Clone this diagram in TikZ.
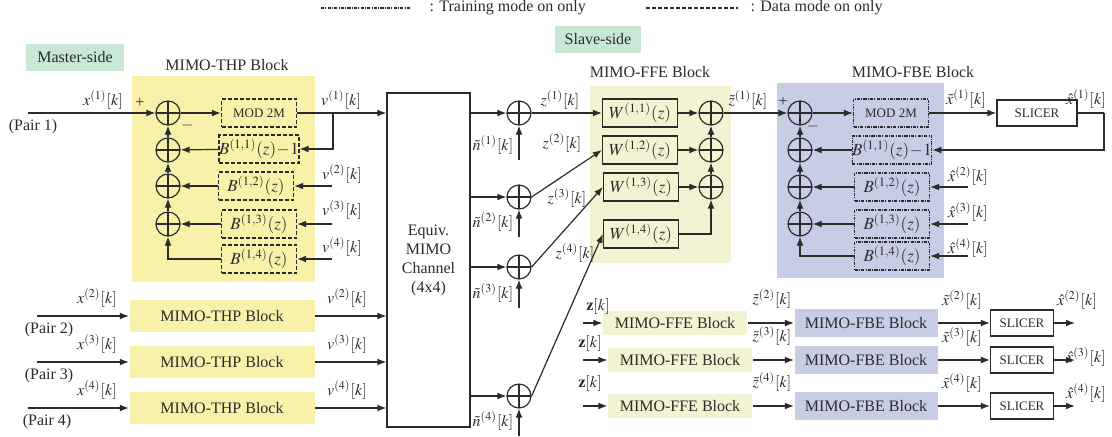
\documentclass[tikz,border=0pt]{standalone}
\usepackage{mathptmx}
\usepackage{fontspec}
\setmainfont{Liberation Serif}
\usetikzlibrary{arrows.meta, positioning, calc}
\definecolor{thpc}{HTML}{F7F1AA}
\definecolor{ffec}{HTML}{F3F2D3}
\definecolor{fbec}{HTML}{C8CDE6}
\definecolor{sidec}{HTML}{C9E7D5}
\definecolor{linec}{HTML}{2B2B2B}
\tikzset{
  adder/.style={circle, draw=linec, minimum size=12pt, inner sep=0pt,
    path picture={\draw[linec]
      (path picture bounding box.north) -- (path picture bounding box.south)
      (path picture bounding box.west) -- (path picture bounding box.east);}},
  datamode/.style={dash pattern=on 2pt off 1pt, line width=0.7pt},
  trainmode/.style={dash pattern=on 1.6pt off 0.6pt on 0.5pt off 0.6pt},
  filt/.style={draw=linec, minimum width=37.5pt, minimum height=14pt,
    inner sep=0pt, font=\fontsize{8.5}{9}\selectfont},
  slicer/.style={draw=linec, minimum width=40pt, minimum height=13pt,
    inner sep=0pt, font=\fontsize{6.5}{7}\selectfont},
  lbl/.style={inner sep=0pt},
  side/.style={fill=sidec, minimum width=#1, minimum height=13.5pt, inner sep=0pt},
  thpblk/.style={fill=thpc, minimum width=92.5pt, minimum height=16pt, inner sep=0pt},
  ffeblk/.style={fill=ffec, minimum width=72pt, minimum height=12pt, inner sep=0pt},
  fbeblk/.style={fill=fbec, minimum width=71.5pt, minimum height=14pt, inner sep=0pt},
}

\begin{document}
\begin{tikzpicture}[x=0.5pt, y=-0.5pt, >={Latex[length=4.5pt,width=3.4pt]},
    line width=0.6pt, color=linec, font=\fontsize{8}{9.5}\selectfont]
  \useasboundingbox (0,0) rectangle (1112,436);
  % legend
  \coordinate (lt0) at (321,8); \coordinate (lt1) at (411,8);
  \draw[trainmode] (lt0) -- (lt1);
  \node[lbl, anchor=west] (ltt) at (429,8) {: Training mode on only};
  \coordinate (ld0) at (646,8); \coordinate (ld1) at (738,8);
  \draw[datamode] (ld0) -- (ld1);
  \node[lbl, anchor=west] (ldt) at (750,8) {: Data mode on only};
  \node[side=49pt] (master) at (75,57) {Master-side};
  \node[side=43pt] (slave) at (598,39) {Slave-side};

  % block backgrounds
  \fill[thpc] (132,76) rectangle (315,282);
  \fill[ffec] (590,86) rectangle (731,263);
  \fill[fbec] (777,83) rectangle (944,278);
  \node[lbl] (thpt) at (227,65) {MIMO-THP Block};
  \node[lbl] (ffet) at (650,72) {MIMO-FFE Block};
  \node[lbl] (fbet) at (913,72) {MIMO-FBE Block};

  % equivalent channel
  \node[draw=linec, minimum width=41.5pt, minimum height=167pt, inner sep=0pt,
        align=center] (ch) at (428.5,260) {Equiv.\\MIMO\\Channel\\(4x4)};

  % ---- MIMO-THP, pair 1 ----
  \node[adder] (ts1) at (168,113) {};
  \node[adder] (ts2) at (168,150) {};
  \node[adder] (ts3) at (168,186) {};
  \node[adder] (ts4) at (168,224) {};
  \node[filt, datamode, font=\fontsize{6.5}{7}\selectfont] (tm) at (259,113) {MOD 2M};
  \node[filt, datamode] (tb11) at (259,149) {$B^{(1,1)}(z)\!-\!1$};
  \node[filt, datamode] (tb12) at (256,186) {$B^{(1,2)}(z)$};
  \node[filt, datamode] (tb13) at (259,224) {$B^{(1,3)}(z)$};
  \node[filt, datamode] (tb14) at (259,259) {$B^{(1,4)}(z)$};
  \coordinate (tx1) at (28,113);
  \draw[->] (tx1) -- (ts1);
  \node[lbl] (lx1) at (103,100) {$x^{(1)}[k]$};
  \node[lbl] (lp1) at (33,127) {(Pair 1)};
  \node[lbl] (tplus) at (140,103) {+};
  \node[lbl] (tminus) at (187,125) {$-$};
  \draw[->] (ts1) -- (tm);
  \draw[->] (tm.east) -- (ch.west |- tm);
  \node[lbl] (lv1) at (341,100) {$v^{(1)}[k]$};
  \coordinate (tfb) at (333,113);
  \draw[->] (tfb) |- (tb11.east);
  \draw[->] (tb11) -- (ts2);
  \draw[->] (tb12) -- (ts3);
  \draw[->] (tb13) -- (ts4);
  \draw[->] (tb14.west) -| (ts4.south);
  \draw[->] (ts4) -- (ts3);
  \draw[->] (ts3) -- (ts2);
  \draw[->] (ts2) -- (ts1);
  \foreach \j/\y/\ly in {2/186/174, 3/224/210, 4/259/247} {
    \coordinate (tv\j) at (332,\y);
    \draw[->] (tv\j) -- (tb1\j.east);
    \node[lbl] (lv\j) at (342,\ly) {$v^{(\j)}[k]$};
  }

  % ---- MIMO-THP, pairs 2 to 4 ----
  \foreach \i/\y/\xs/\px in {2/316/37/49, 3/362/37/49, 4/408/28/47} {
    \node[thpblk] (thp\i) at (222,\y) {MIMO-THP Block};
    \coordinate (tx\i) at (\xs,\y);
    \draw[->] (tx\i) -- (thp\i);
    \draw[->] (thp\i.east) -- (ch.west |- thp\i);
    \node[lbl] (lx\i) at (97,\y-18) {$x^{(\i)}[k]$};
    \node[lbl] (lp\i) at (\px,\y+14) {(Pair \i)};
    \node[lbl] (lvo\i) at (347,\y-18) {$v^{(\i)}[k]$};
  }

  % ---- noise ----
  \foreach \i/\y/\ny in {1/113/160, 2/197/237, 3/267/308, 4/396/436} {
    \node[adder] (ns\i) at (519,\y) {};
    \draw[->] (ch.east |- ns\i) -- (ns\i);
    \coordinate (nn\i) at (519,\ny);
    \draw[->] (nn\i) -- (ns\i);
    \node[lbl] (ln\i) at (493,\ny-15) {$\tilde{n}^{(\i)}[k]$};
  }

  % ---- MIMO-FFE, pair 1 ----
  \node[filt] (w11) at (640,113) {$W^{(1,1)}(z)$};
  \node[filt] (w12) at (640,150) {$W^{(1,2)}(z)$};
  \node[filt] (w13) at (641,187) {$W^{(1,3)}(z)$};
  \node[filt] (w14) at (641,234) {$W^{(1,4)}(z)$};
  \node[adder] (fs1) at (711,113) {};
  \node[adder] (fs2) at (711,150) {};
  \node[adder] (fs3) at (711,187) {};
  \foreach \i in {1,2,3} {
    \draw[->] (ns\i.east) -- (w1\i.west);
    \draw[->] (w1\i) -- (fs\i);
  }
  \draw[->] (ns4.east) -- (w14.west);
  \draw[->] (w14.east) -| (fs3.south);
  \draw[->] (fs3) -- (fs2);
  \draw[->] (fs2) -- (fs1);
  \node[lbl] (lz1) at (560,100) {$z^{(1)}[k]$};
  \node[lbl] (lz2) at (562,143) {$z^{(2)}[k]$};
  \node[lbl] (lz3) at (567,198) {$z^{(3)}[k]$};
  \node[lbl] (lz4) at (575,253) {$z^{(4)}[k]$};

  % ---- MIMO-FBE, pair 1 ----
  \node[adder] (bs1) at (800,113) {};
  \node[adder] (bs2) at (800,150) {};
  \node[adder] (bs3) at (800,187) {};
  \node[adder] (bs4) at (800,224) {};
  \node[filt, trainmode, font=\fontsize{6.5}{7}\selectfont] (bm) at (891,113) {MOD 2M};
  \node[filt, trainmode] (bb11) at (892,150) {$B^{(1,1)}(z)\!-\!1$};
  \node[filt, trainmode] (bb12) at (892,187) {$B^{(1,2)}(z)$};
  \node[filt, trainmode] (bb13) at (892,224) {$B^{(1,3)}(z)$};
  \node[filt, trainmode] (bb14) at (892,256) {$B^{(1,4)}(z)$};
  \draw[->] (fs1) -- (bs1);
  \node[lbl] (lzt1) at (748,100) {$\tilde{z}^{(1)}[k]$};
  \node[lbl] (bplus) at (783,102) {+};
  \node[lbl] (bminus) at (813,126) {$-$};
  \draw[->] (bs1) -- (bm);
  \node[slicer] (sl1) at (1037,113) {SLICER};
  \draw[->] (bm) -- (sl1);
  \node[lbl] (lxt1) at (966,99) {$\tilde{x}^{(1)}[k]$};
  \node[lbl] (lxh1) at (1086,99) {$\hat{x}^{(1)}[k]$};
  \coordinate (bfb) at (1104,113);
  \draw (sl1.east) -- (bfb);
  \draw[->] (bfb) |- (bb11.east);
  \draw[->] (bb11) -- (bs2);
  \draw[->] (bb12) -- (bs3);
  \draw[->] (bb13) -- (bs4);
  \draw[->] (bb14.west) -| (bs4.south);
  \draw[->] (bs4) -- (bs3);
  \draw[->] (bs3) -- (bs2);
  \draw[->] (bs2) -- (bs1);
  \foreach \j/\y/\ly in {2/187/176, 3/224/212, 4/256/248} {
    \coordinate (bx\j) at (968,\y);
    \draw[->] (bx\j) -- (bb1\j.east);
    \node[lbl] (lxi\j) at (968,\ly) {$\hat{x}^{(\j)}[k]$};
  }

  % ---- slave side, pairs 2 to 4 ----
  \foreach \i/\y/\xf/\zx/\zy/\hx/\hy in
      {2/323/675/598/306/1077/300, 3/360/680/590/343/1086/357, 4/406/680/590/383/1086/393} {
    \node[ffeblk] (ffe\i) at (\xf,\y) {MIMO-FFE Block};
    \node[fbeblk] (fbe\i) at (866,\y) {MIMO-FBE Block};
    \node[slicer, minimum width=31.5pt] (sl\i) at (1022,\y) {SLICER};
    \coordinate (zin\i) at (583,\y);
    \draw[->] (zin\i) -- (ffe\i);
    \draw[->] (ffe\i) -- (fbe\i);
    \draw[->] (fbe\i) -- (sl\i);
    \coordinate (xo\i) at (1075,\y);
    \draw[->] (sl\i) -- (xo\i);
    \node[lbl] (lzb\i) at (\zx,\zy) {$\mathbf{z}[k]$};
    \node[lbl] (lzt\i) at (772,\y-24) {$\tilde{z}^{(\i)}[k]$};
    \node[lbl] (lxt\i) at (962,\y-23) {$\tilde{x}^{(\i)}[k]$};
    \node[lbl] (lxh\i) at (\hx,\hy) {$\hat{x}^{(\i)}[k]$};
  }
\end{tikzpicture}
\end{document}
